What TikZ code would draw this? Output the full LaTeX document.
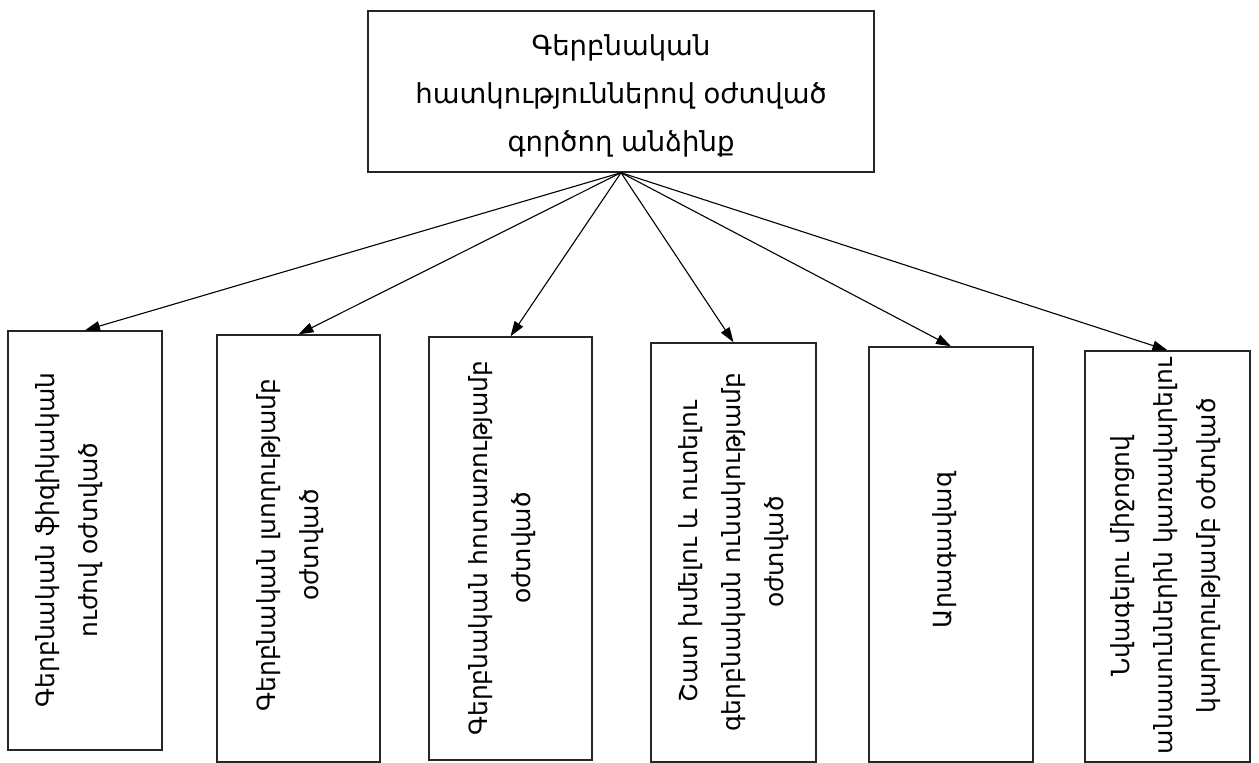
\documentclass[tikz,border=0pt]{standalone}
\usepackage{fontspec}
\setmainfont{DejaVu Sans}
\usetikzlibrary{arrows.meta}
\begin{document}
\begin{tikzpicture}[x=1pt,y=-1pt,
  box/.style={draw=black!85,line width=1.4pt,inner sep=0pt},
  toptext/.style={font=\fontsize{27.5}{48}\selectfont,align=center,inner sep=0pt},
  lbl/.style={font=\fontsize{25}{43}\selectfont,align=center,rotate=90,inner sep=0pt},
  arr/.style={-{Triangle[length=15pt,width=10pt]},line width=1.1pt,black}]
\useasboundingbox (0,0) rectangle (1259,763);
% top box and its caption
\node[box,minimum width=506pt,minimum height=161pt] (top) at (621,91.5) {};
\node[toptext] (tt) at (621,96) {Գերբնական\\հատկություններով օժտված\\գործող անձինք};
% lower boxes
\node[box,minimum width=154pt,minimum height=419pt] (b1) at (85,540.5) {};
\node[box,minimum width=163pt,minimum height=427pt] (b2) at (298.5,548.5) {};
\node[box,minimum width=163pt,minimum height=423pt] (b3) at (510.5,548.5) {};
\node[box,minimum width=165pt,minimum height=419pt] (b4) at (733.5,552.5) {};
\node[box,minimum width=164pt,minimum height=415pt] (b5) at (951,554.5) {};
\node[box,minimum width=165pt,minimum height=411pt] (b6) at (1167.5,556.5) {};
% vertical captions
\node[lbl] (t1) at (69,540) {Գերբնական ֆիզիկական\\ուժով օժտված};
\node[lbl] (t2) at (290,545) {Գերբնական լսողությամբ\\օժտված};
\node[lbl] (t3) at (502,548) {Գերբնական հոտառությամբ\\օժտված};
\node[lbl] (t4) at (734,552) {Շատ խմելու և ուտելու\\գերբնական ունակությամբ\\օժտված};
\node[lbl] (t5) at (945,550) {Արագավազ};
\node[lbl] (t6) at (1166,556) {Նվագելու միջոցով\\անասուններին կառավարելու\\կարողությամբ օժտված};
% connectors
\foreach \b in {b1,b2,b3,b4,b5,b6}
  \draw[arr] (top.south) -- (\b.north);
\end{tikzpicture}
\end{document}
